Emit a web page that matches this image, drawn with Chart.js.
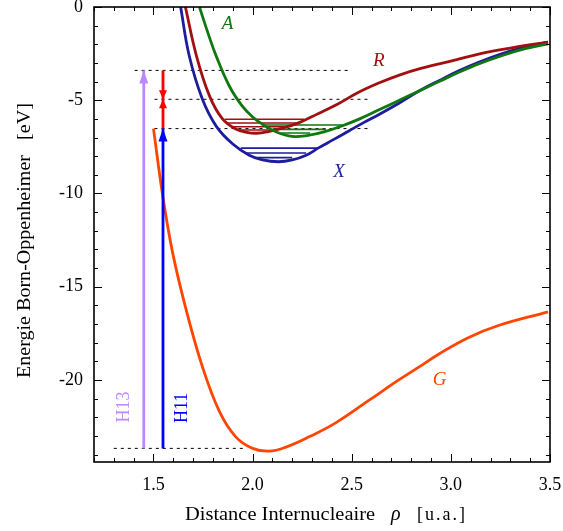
<!DOCTYPE html>
<html>
<head>
<meta charset="utf-8">
<script src="https://cdn.jsdelivr.net/npm/chart.js@4/dist/chart.umd.min.js"></script>
<style>
  html, body { margin: 0; padding: 0; background: #fff; }
  canvas { display: block; }
</style>
</head>
<body>
<canvas id="boChart" width="563" height="531"></canvas>
<script>
// potential curves (rho in u.a., energy in eV)
const xRhoX = [1.637, 1.68, 1.747, 1.817, 1.9, 1.983, 2.05, 2.13, 2.2, 2.27, 2.335, 2.41, 2.485, 2.56, 2.64, 2.74, 2.837, 2.94, 3.04, 3.14, 3.26, 3.37, 3.49];
const energyX = [0, -2.6, -4.95, -6.4, -7.35, -7.95, -8.2, -8.3, -8.2, -7.95, -7.54, -7.1, -6.65, -6.2, -5.75, -5.15, -4.52, -3.95, -3.42, -2.96, -2.5, -2.15, -1.88];

const xRhoR = [1.661, 1.717, 1.783, 1.848, 1.918, 1.97, 2.02, 2.08, 2.15, 2.235, 2.33, 2.43, 2.53, 2.636, 2.74, 2.853, 3.02, 3.15, 3.3, 3.49];
const energyR = [0, -2.63, -4.78, -6.0, -6.56, -6.72, -6.77, -6.68, -6.5, -6.2, -5.72, -5.2, -4.6, -4.08, -3.65, -3.28, -2.85, -2.5, -2.2, -1.88];

const xRhoA = [1.732, 1.775, 1.816, 1.883, 1.948, 2.0, 2.05, 2.12, 2.2, 2.28, 2.36, 2.45, 2.54, 2.64, 2.74, 2.84, 2.94, 3.04, 3.14, 3.26, 3.37, 3.49];
const energyA = [0, -1.4, -2.62, -4.25, -5.32, -5.9, -6.29, -6.7, -6.94, -6.88, -6.7, -6.38, -6.0, -5.5, -5.0, -4.5, -4.0, -3.5, -3.05, -2.6, -2.25, -1.98];

const xRhoG = [1.5, 1.547, 1.597, 1.664, 1.747, 1.833, 1.915, 2.0, 2.084, 2.168, 2.285, 2.419, 2.586, 2.737, 2.84, 2.938, 3.09, 3.24, 3.49];
const energyG = [-6.52, -10.15, -13.2, -16.2, -19.3, -21.7, -23.05, -23.67, -23.82, -23.6, -23.05, -22.3, -21.1, -20.0, -19.3, -18.62, -17.72, -17.08, -16.35];

// vibrational levels: energy, left and right turning points
const levelsX = [-7.57, -7.83, -8.08];
const levelsXFrom = [1.94, 1.97, 2.01];
const levelsXTo = [2.335, 2.27, 2.2];

const levelsR = [-6.02, -6.22, -6.42, -6.6];
const levelsRFrom = [1.86, 1.875, 1.9, 1.93];
const levelsRTo = [2.26, 2.22, 2.17, 2.11];

const levelsA = [-6.33, -6.56, -6.76];
const levelsAFrom = [2.05, 2.1, 2.14];
const levelsATo = [2.47, 2.37, 2.29];

// dotted reference energies
const refEnergy = [-3.4, -4.95, -6.52, -23.67];
const refFrom = [1.405, 1.505, 1.505, 1.3];
const refTo = [2.48, 2.58, 2.58, 1.97];

// photon arrows (rho, start energy, tip energy)
const arrowRho = [1.451, 1.548, 1.548, 1.548];
const arrowFrom = [-23.67, -23.67, -3.4, -6.52];
const arrowTo = [-3.4, -6.52, -4.95, -4.95];
const arrowColors = ["#bb88ff", "#0000ff", "#ff0000", "#ff0000"];

// curve and arrow labels
const labelText = ["A", "R", "X", "G", "H13", "H11"];
const labelRho = [1.873, 2.637, 2.436, 2.943, 1.355, 1.646];
const labelEnergy = [-0.91, -2.9, -8.87, -20.0, -21.45, -21.5];
const labelColors = ["#117711", "#a01010", "#1c1c9c", "#ff4500", "#bb88ff", "#0000ff"];

const xTicks = [1.5, 2.0, 2.5, 3.0, 3.5];
const yTicks = [-20, -15, -10, -5, 0];

const serif = "'Liberation Serif', 'Times New Roman', serif";

function toPoints(xs, ys) {
    return xs.map((x, i) => ({ x: x, y: ys[i] }));
}

function toSegments(energies, from, to) {
    return energies.flatMap((e, i) => [
        { x: from[i], y: e },
        { x: to[i], y: e },
        { x: to[i], y: null },
    ]);
}

function curve(points, color) {
    return {
        data: points,
        borderColor: color,
        borderWidth: 2.8,
        pointRadius: 0,
        tension: 0.4,
    };
}

function segments(points, color, width, dash) {
    return {
        data: points,
        borderColor: color,
        borderWidth: width,
        borderDash: dash || [],
        pointRadius: 0,
        spanGaps: false,
    };
}

const arrowSets = arrowRho.map((r, i) => ({
    data: [{ x: r, y: arrowFrom[i] }, { x: r, y: arrowTo[i] }],
    borderColor: arrowColors[i],
    borderWidth: 2.8,
    pointRadius: 0,
    arrowHead: true,
}));

// draws the arrow heads at the last point of flagged datasets
const arrowHeads = {
    id: "arrowHeads",
    afterDatasetsDraw(chart) {
        const ctx = chart.ctx;
        chart.data.datasets.forEach((ds, i) => {
            if (!ds.arrowHead) return;
            const pts = chart.getDatasetMeta(i).data;
            const tip = pts[pts.length - 1];
            const prev = pts[pts.length - 2];
            const dir = tip.y < prev.y ? 1 : -1;
            const long = Math.abs(tip.y - prev.y) > 40;
            const len = long ? 13 : 9;
            const half = long ? 4.5 : 4;
            ctx.save();
            ctx.fillStyle = ds.borderColor;
            ctx.beginPath();
            ctx.moveTo(tip.x, tip.y);
            ctx.lineTo(tip.x - half, tip.y + dir * len);
            ctx.lineTo(tip.x + half, tip.y + dir * len);
            ctx.closePath();
            ctx.fill();
            ctx.restore();
        });
    },
};

// text squeezed or stretched to a given width
function fitText(ctx, text, x, y, width) {
    const w = ctx.measureText(text).width;
    ctx.save();
    ctx.translate(x, y);
    ctx.scale(width / w, 1);
    ctx.fillText(text, 0, 0);
    ctx.restore();
}

// frame with inward ticks on all sides, text labels and axis titles
const frame = {
    id: "frame",
    afterDraw(chart) {
        const ctx = chart.ctx;
        const a = chart.chartArea;
        const xs = chart.scales.x;
        const ys = chart.scales.y;
        ctx.save();
        ctx.strokeStyle = "#000";
        ctx.lineWidth = 1;
        for (let k = 12; k <= 35; k++) {
            const px = Math.round(xs.getPixelForValue(k / 10)) + 0.5;
            const len = k % 5 === 0 ? 8 : 4;
            ctx.beginPath();
            ctx.moveTo(px, a.bottom);
            ctx.lineTo(px, a.bottom - len);
            ctx.moveTo(px, a.top);
            ctx.lineTo(px, a.top + len);
            ctx.stroke();
        }
        for (let v = -24; v <= 0; v++) {
            const py = Math.round(ys.getPixelForValue(v)) + 0.5;
            const len = v % 5 === 0 ? 8 : 4;
            ctx.beginPath();
            ctx.moveTo(a.left, py);
            ctx.lineTo(a.left + len, py);
            ctx.moveTo(a.right, py);
            ctx.lineTo(a.right - len, py);
            ctx.stroke();
        }
        ctx.lineWidth = 1.6;
        ctx.strokeRect(a.left, a.top, a.right - a.left, a.bottom - a.top);

        ctx.textAlign = "center";
        ctx.textBaseline = "middle";
        labelText.forEach((t, i) => {
            const px = xs.getPixelForValue(labelRho[i]);
            const py = ys.getPixelForValue(labelEnergy[i]);
            ctx.fillStyle = labelColors[i];
            if (t.startsWith("H")) {
                ctx.save();
                ctx.translate(px, py);
                ctx.rotate(-Math.PI / 2);
                ctx.font = "18px " + serif;
                ctx.fillText(t, 0, 0);
                ctx.restore();
            } else {
                ctx.font = "italic 19px " + serif;
                ctx.fillText(t, px, py);
            }
        });

        ctx.fillStyle = "#000";
        ctx.textAlign = "left";
        ctx.textBaseline = "alphabetic";
        ctx.font = "18px " + serif;
        fitText(ctx, "Distance Internucleaire", 185, 520, 190);
        ctx.font = "italic 20px " + serif;
        ctx.fillText("\u03c1", 391, 520);
        ctx.font = "18px " + serif;
        ctx.letterSpacing = "2px";
        ctx.fillText("[u.a.]", 417, 520);
        ctx.letterSpacing = "0px";

        ctx.save();
        ctx.translate(30, 378);
        ctx.rotate(-Math.PI / 2);
        fitText(ctx, "Energie Born-Oppenheimer", 0, 0, 223);
        fitText(ctx, "[eV]", 238, 0, 37);
        ctx.restore();
        ctx.restore();
    },
};

new Chart(document.getElementById("boChart"), {
    type: "line",
    data: {
        datasets: [
            ...arrowSets,
            curve(toPoints(xRhoG, energyG), "#ff4500"),
            curve(toPoints(xRhoA, energyA), "#117711"),
            curve(toPoints(xRhoR, energyR), "#a01010"),
            curve(toPoints(xRhoX, energyX), "#1c1c9c"),
            segments(toSegments(levelsA, levelsAFrom, levelsATo), "#117711", 1.6),
            segments(toSegments(levelsR, levelsRFrom, levelsRTo), "#a01010", 1.6),
            segments(toSegments(levelsX, levelsXFrom, levelsXTo), "#1c1c9c", 1.6),
            segments(toSegments(refEnergy, refFrom, refTo), "#000", 1, [3, 4]),
        ],
    },
    options: {
        responsive: false,
        animation: false,
        layout: { padding: { top: 7, right: 13, left: 0, bottom: 0 } },
        plugins: { legend: { display: false }, tooltip: { enabled: false } },
        scales: {
            x: {
                type: "linear",
                min: 1.2,
                max: 3.5,
                grid: { display: false, drawTicks: false },
                border: { display: false },
                ticks: {
                    color: "#000",
                    padding: 12,
                    maxRotation: 0,
                    font: { family: serif, size: 18 },
                    callback: (v) => v.toFixed(1),
                },
                afterBuildTicks: (s) => { s.ticks = xTicks.map((v) => ({ value: v })); },
                afterFit: (s) => {
                    s.height = 69;
                    s.paddingLeft = 0;
                    s.paddingRight = 0;
                },
            },
            y: {
                type: "linear",
                min: -24.4,
                max: 0,
                grid: { display: false, drawTicks: false },
                border: { display: false },
                ticks: {
                    color: "#000",
                    padding: 11,
                    font: { family: serif, size: 18 },
                },
                afterBuildTicks: (s) => { s.ticks = yTicks.map((v) => ({ value: v })); },
                afterFit: (s) => {
                    s.width = 94;
                    s.paddingTop = 0;
                    s.paddingBottom = 0;
                },
            },
        },
    },
    plugins: [arrowHeads, frame],
});
</script>
</body>
</html>
